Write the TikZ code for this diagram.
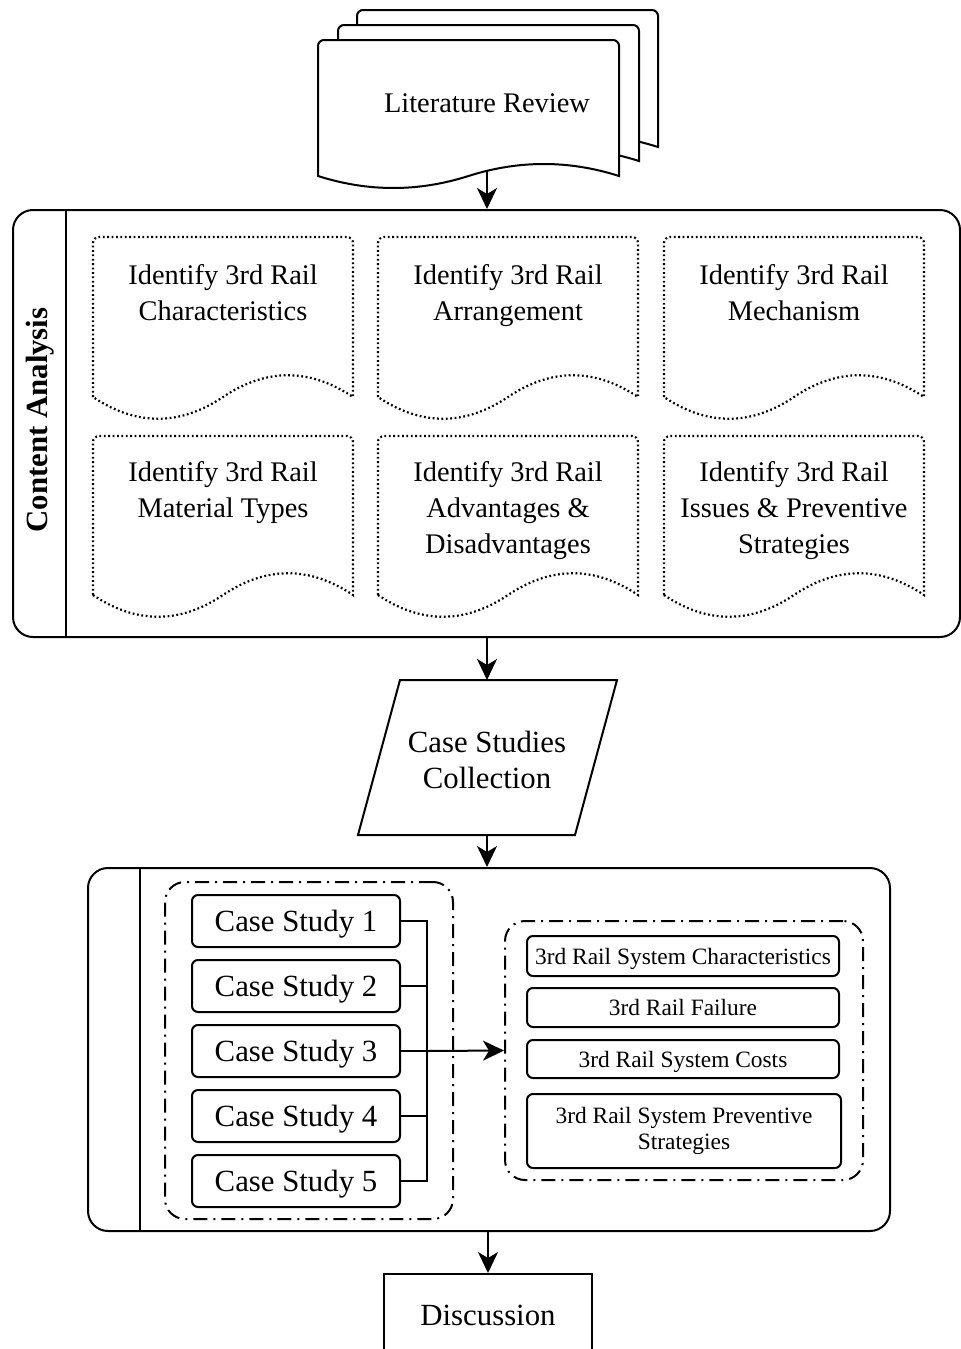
\documentclass[tikz,border=0pt]{standalone}
\usepackage{fontspec}
\setmainfont{Liberation Serif}
\usetikzlibrary{arrows.meta,fit}
\def\docshape[#1](#2,#3)(#4,#5)(#6) %Syntax: [draw options](left,top)(width,wave ends)(wave depth)
{ \draw[#1] (#2,#5) -- (#2,{#3+6}) arc (180:270:6) -- ({#2+#4-6},#3) arc (270:360:6) -- ({#2+#4},#5)
	.. controls ({#2+5*#4/6},{#5-#6}) and ({#2+2*#4/3},{#5-#6}) .. ({#2+#4/2},#5)
	.. controls ({#2+#4/3},{#5+#6}) and ({#2+#4/6},{#5+#6}) .. (#2,#5) -- cycle; }

\begin{document}
\begin{tikzpicture}[x=0.5pt,y=-0.5pt,line width=1pt,
	txt/.style={align=center,inner sep=0pt,font=\fontsize{14.2}{18}\selectfont},
	bigtxt/.style={align=center,font=\fontsize{15.4}{18}\selectfont},
	frame/.style={draw,rounded corners=10pt,inner sep=0pt},
	dotted doc/.style={fill=white,line width=1.1pt,dash pattern=on 0.9pt off 1.3pt},
	group/.style={draw,rounded corners=10pt,inner sep=0pt,dash pattern=on 7pt off 3pt on 1pt off 3pt},
	casebox/.style={bigtxt,draw,rounded corners=3pt,text depth=0pt,minimum width=104pt,minimum height=26pt},
	resbox/.style={draw,rounded corners=3pt,align=center,minimum width=156pt,inner sep=1pt,font=\fontsize{11.7}{13}\selectfont},
	arr/.style={-{Stealth[length=10.5pt,width=10pt,inset=3pt]}}]
	\useasboundingbox (0,0) rectangle (961,1349);

	%literature review stack
	\docshape[fill=white](357,10)(301,147)(16)
	\docshape[fill=white](338,25)(301,161)(16)
	\docshape[fill=white](318,40)(301,176)(16)
	\node[txt] (lit) at (487,103) {Literature Review};
	\coordinate (litbot) at (487,171);

	%content analysis
	\node[frame,fit={(13,210) (960,637)}] (ca) {};
	\draw (66,210) -- (66,637);		%label strip
	\node[rotate=90,font=\fontsize{15.4}{18}\selectfont\bfseries] (calabel) at (40,420) {Content Analysis};
	%
	\docshape[dotted doc](93,237)(260,397)(29)
	\docshape[dotted doc](378,237)(260,397)(29)
	\docshape[dotted doc](664,237)(260,397)(29)
	\docshape[dotted doc](93,436)(260,595)(29)
	\docshape[dotted doc](378,436)(260,595)(29)
	\docshape[dotted doc](664,436)(260,595)(29)
	\node[txt,anchor=north] (charac) at (223,263) {Identify 3rd Rail\\Characteristics};
	\node[txt,anchor=north] (arrang) at (508,263) {Identify 3rd Rail\\Arrangement};
	\node[txt,anchor=north] (mech)   at (794,263) {Identify 3rd Rail\\Mechanism};
	\node[txt,anchor=north] (mater)  at (223,460) {Identify 3rd Rail\\Material Types};
	\node[txt,anchor=north] (advan)  at (508,460) {Identify 3rd Rail\\Advantages \&\\Disadvantages};
	\node[txt,anchor=north] (issues) at (794,460) {Identify 3rd Rail\\Issues \& Preventive\\Strategies};

	%case studies collection
	\coordinate (csctop) at (487,680);
	\coordinate (cscbot) at (487,835);
	\draw (400,680) -- (617,680) -- (575,835) -- (358,835) -- cycle;
	\node[bigtxt] (csc) at (487,760) {Case Studies\\Collection};

	%case studies
	\node[frame,fit={(88,868) (890,1231)}] (study) {};
	\draw (140,868) -- (140,1231);		%label strip
	\node[group,fit={(165,882) (453,1219)}] (cases) {};
	\node[group,fit={(505,921) (863,1180)}] (res) {};
	%
	\node[casebox] (cs1) at (296,921)  {Case Study 1};
	\node[casebox] (cs2) at (296,986)  {Case Study 2};
	\node[casebox] (cs3) at (296,1051) {Case Study 3};
	\node[casebox] (cs4) at (296,1116) {Case Study 4};
	\node[casebox] (cs5) at (296,1181) {Case Study 5};
	\coordinate (bus) at (427,1051);
	\draw (cs1.east) -| (bus);
	\draw (cs5.east) -| (bus);
	\draw (cs2.east) -- (cs2.east -| bus);
	\draw (cs3.east) -- (bus);
	\draw (cs4.east) -- (cs4.east -| bus);
	\draw[arr] (bus) -- (res.west);
	%
	\node[resbox,text depth=0pt,minimum height=20pt]   (sysch) at (683,956)    {3rd Rail System Characteristics};
	\node[resbox,text depth=0pt,minimum height=19.5pt] (fail)  at (683,1007.5) {3rd Rail Failure};
	\node[resbox,text depth=0pt,minimum height=19pt]   (cost)  at (683,1059)   {3rd Rail System Costs};
	\node[resbox,minimum height=37pt,minimum width=157pt] (prev) at (684,1131) {3rd Rail System Preventive\\Strategies};

	%discussion
	\node[bigtxt,draw,text depth=0pt,minimum width=104pt,minimum height=41pt] (disc) at (488,1315) {Discussion};

	%flow arrows
	\draw[arr] (litbot) -- (litbot |- ca.north);
	\draw[arr] (ca.south -| csctop) -- (csctop);
	\draw[arr] (cscbot) -- (cscbot |- study.north);
	\draw[arr] (disc.north |- study.south) -- (disc.north);
\end{tikzpicture}
\end{document}
